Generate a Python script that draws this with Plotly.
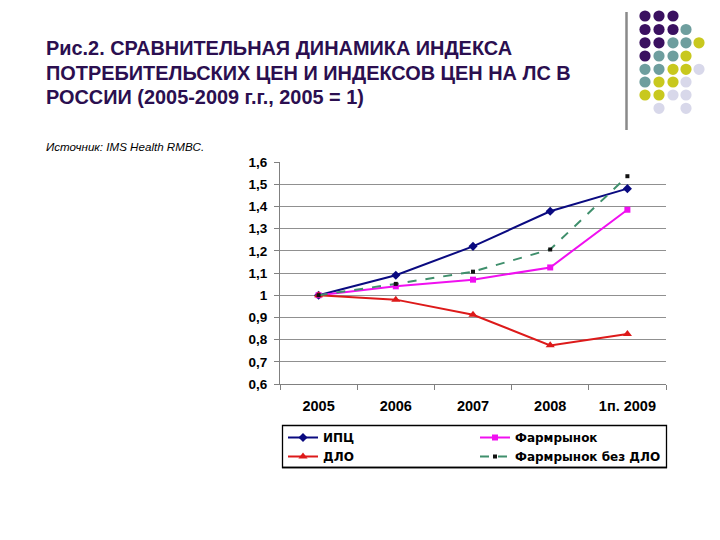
import plotly.graph_objects as go

categories = ["2005", "2006", "2007", "2008", "1п. 2009"]
cpi = [1.0, 1.09, 1.22, 1.378, 1.48]
pharma = [1.0, 1.04, 1.07, 1.125, 1.385]
dlo = [1.0, 0.98, 0.912, 0.774, 0.825]
pharma_no_dlo = [1.0, 1.051, 1.106, 1.206, 1.536]
y_ticks = [0.6, 0.7, 0.8, 0.9, 1.0, 1.1, 1.2, 1.3, 1.4, 1.5, 1.6]
y_ticktext = ["0,6", "0,7", "0,8", "0,9", "1", "1,1", "1,2", "1,3", "1,4", "1,5", "1,6"]
title_lines = ["Рис.2. СРАВНИТЕЛЬНАЯ ДИНАМИКА ИНДЕКСА",
               "ПОТРЕБИТЕЛЬСКИХ ЦЕН И ИНДЕКСОВ ЦЕН НА ЛС В",
               "РОССИИ (2005-2009 г.г., 2005 = 1)"]
source = "Источник: IMS Health RMBC."

OFF = 8  # page body margin
W, H = 720 - OFF, 540 - OFF
L, T = 280 - OFF, 162 - OFF
PW, PH = 386, 222
R, B = W - L - PW, H - T - PH


def px(x):
    return (x - OFF - L) / PW


def py(y):
    return (T + PH - (y - OFF)) / PH


fig = go.Figure()
fig.add_trace(go.Scatter(x=categories, y=cpi, name="ИПЦ", mode="lines+markers",
                         line=dict(color="#0A0A80", width=2),
                         marker=dict(symbol="diamond", size=7, color="#0A0A80")))
fig.add_trace(go.Scatter(x=categories, y=pharma, name="Фармрынок", mode="lines+markers",
                         line=dict(color="#F010F0", width=2),
                         marker=dict(symbol="square", size=6, color="#F010F0")))
fig.add_trace(go.Scatter(x=categories, y=dlo, name="ДЛО", mode="lines+markers",
                         line=dict(color="#DD1A1A", width=2),
                         marker=dict(symbol="triangle-up", size=8, color="#DD1A1A")))
fig.add_trace(go.Scatter(x=categories, y=pharma_no_dlo, name="Фармрынок без ДЛО", mode="lines+markers",
                         line=dict(color="#3F8F6C", width=2, dash="dash"),
                         marker=dict(symbol="square", size=4, color="#111111")))

shapes = []
# decorative dot grid (top right)
purple, teal, yellow, lav = "#3A1060", "#6E9E9E", "#C8C81E", "#D8D8EA"
cols = [645, 659, 673, 686, 699]
rows = [16, 29.5, 42.8, 56, 69.3, 82, 95, 108.3]
pattern = [
    [purple, purple, purple, None, None],
    [purple, purple, purple, teal, None],
    [purple, purple, teal, teal, yellow],
    [purple, teal, teal, yellow, None],
    [teal, teal, yellow, yellow, lav],
    [teal, yellow, yellow, lav, None],
    [yellow, yellow, lav, lav, None],
    [None, lav, None, lav, None],
]
r = 5.6
for ri, row in enumerate(pattern):
    for ci, c in enumerate(row):
        if c:
            cx, cy = cols[ci], rows[ri]
            shapes.append(dict(type="circle", xref="paper", yref="paper",
                               x0=px(cx - r), x1=px(cx + r), y0=py(cy + r), y1=py(cy - r),
                               fillcolor=c, line=dict(width=0), layer="above"))
shapes.append(dict(type="line", xref="paper", yref="paper", x0=px(626.5), x1=px(626.5),
                   y0=py(12), y1=py(130), line=dict(color="#8A8A8A", width=2.5)))
# legend frame
shapes.append(dict(type="rect", xref="paper", yref="paper", x0=px(282.5), x1=px(666.5),
                   y0=py(467.5), y1=py(425.5), line=dict(color="black", width=1.3),
                   fillcolor="rgba(0,0,0,0)", layer="above"))
shapes.append(dict(type="line", xref="paper", yref="paper", x0=px(282), x1=px(667),
                   y0=py(467.5), y1=py(467.5), line=dict(color="black", width=1.3),
                   layer="above"))

annotations = []
for i, (line, yc) in enumerate(zip(title_lines, [48, 72.5, 97])):
    annotations.append(dict(xref="paper", yref="paper", x=px(44), y=py(yc),
                            xanchor="left", yanchor="middle", showarrow=False, text=line,
                            font=dict(family="Liberation Sans, Arial, sans-serif", size=19.9,
                                      weight="bold", color="#2B0F50")))
annotations.append(dict(xref="paper", yref="paper", x=px(44), y=py(146), xanchor="left",
                        yanchor="middle", showarrow=False, text="<i>" + source + "</i>",
                        font=dict(family="Liberation Sans, Arial, sans-serif", size=11.6,
                                  color="black")))

fig.update_layout(
    width=W, height=H,
    margin=dict(l=L, r=R, t=T, b=B, pad=0),
    paper_bgcolor="white", plot_bgcolor="white",
    showlegend=True,
    shapes=shapes,
    annotations=annotations,
    font=dict(family="Liberation Sans, Arial, sans-serif", color="black"),
    xaxis=dict(type="category", range=[-0.5, 4.5], showgrid=False,
               showline=True, linecolor="#808080", linewidth=1,
               ticks="outside", tickson="boundaries", ticklen=5, tickcolor="#808080",
               ticklabelstandoff=9,
               tickfont=dict(size=14.5, weight="bold", color="black"), fixedrange=True),
    yaxis=dict(range=[0.6, 1.6], tickvals=y_ticks, ticktext=y_ticktext,
               showgrid=True, gridcolor="#909090", gridwidth=1,
               showline=True, linecolor="#808080", linewidth=1,
               ticks="outside", ticklen=5, tickcolor="#808080",
               ticklabelstandoff=4,
               tickfont=dict(size=13.5, weight="bold", color="black"), zeroline=False),
    legend=dict(orientation="h", x=px(283), y=py(423), xanchor="left", yanchor="top",
                borderwidth=0, bgcolor="rgba(0,0,0,0)",
                entrywidth=147, entrywidthmode="pixels", tracegroupgap=0,
                font=dict(family="DejaVu Sans, sans-serif", size=12, weight="bold", color="black")),
)

fig.write_html("out.html")
